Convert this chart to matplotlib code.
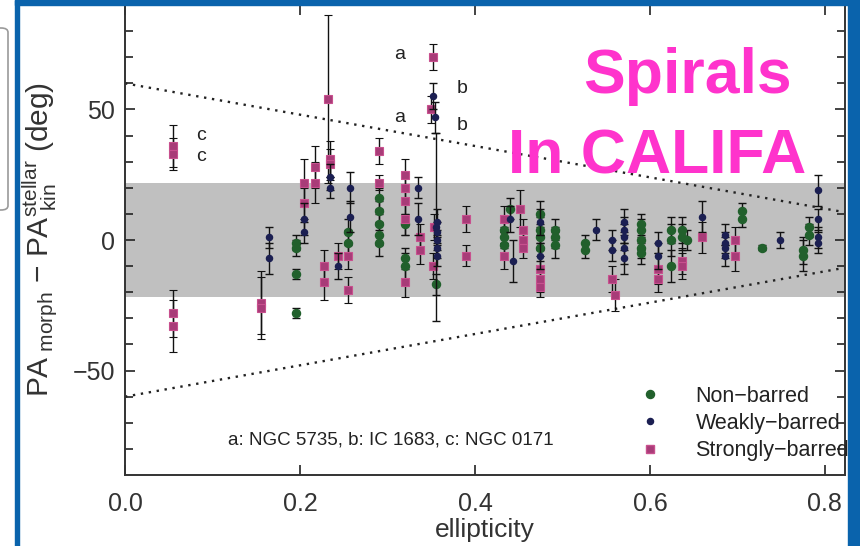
import matplotlib
matplotlib.use("Agg")
import matplotlib.pyplot as plt
from matplotlib.patches import Rectangle, FancyBboxPatch
from matplotlib.lines import Line2D
import numpy as np

plt.rcParams["font.family"] = ["Liberation Sans", "DejaVu Sans"]
plt.rcParams["mathtext.fontset"] = "custom"
plt.rcParams["mathtext.rm"] = "Liberation Sans"
plt.rcParams["mathtext.it"] = "Liberation Sans:italic"

# ---- data: ellipticity, PA difference (deg), uncertainty (deg) ----
eps_non = [0.195, 0.195, 0.195, 0.195, 0.255, 0.255,
           0.29, 0.29, 0.29, 0.29, 0.29, 0.32, 0.32, 0.32, 0.355,
           0.433, 0.433, 0.433, 0.44, 0.474, 0.474, 0.474, 0.474,
           0.491, 0.491, 0.491, 0.526, 0.526,
           0.59, 0.59, 0.59, 0.59, 0.59, 0.624, 0.624, 0.624,
           0.637, 0.637, 0.642, 0.705, 0.705, 0.728,
           0.775, 0.775, 0.782, 0.782]
dpa_non = [-1, -3, -13, -28, 3, -1,
           16, 11, 6, 2, -1, 6, -7, -10, -17,
           4, 1, -2, 12, 10, 4, 1, -3,
           4, 1, -2, -1, -4,
           6, 4, 0, -3, -5, 4, 0, -10,
           4, 1, 0, 11, 8, -3,
           -4, -6, 5, 2]
err_non = [3, 3, 2, 2, 5, 5,
           4, 4, 4, 4, 5, 4, 4, 5, 4,
           5, 4, 5, 4, 5, 5, 5, 5,
           4, 4, 5, 3, 3,
           4, 4, 4, 4, 4, 5, 6, 6,
           5, 5, 4, 3, 3, 1,
           5, 6, 4, 4]

eps_weak = [0.165, 0.165, 0.205, 0.205, 0.234, 0.234, 0.243, 0.257, 0.257,
            0.335, 0.335, 0.352, 0.354, 0.355,
            0.357, 0.357, 0.357, 0.357, 0.357, 0.44, 0.443, 0.474, 0.474,
            0.538, 0.557, 0.557, 0.57, 0.57, 0.57, 0.57, 0.57,
            0.609, 0.609, 0.659, 0.686, 0.686, 0.686, 0.686, 0.749,
            0.792, 0.792, 0.792, 0.792]
dpa_weak = [1, -7, 8, 3, 24, 20, -10, 20, 9,
            20, 8, 55, 47, 5,
            7, 3, 0, -3, -6, 8, -8, 7, -6,
            4, 0, -4, 7, 4, 1, -3, -7,
            -1, -6, 9, 2, -1, -3, -6, 0,
            19, 8, 1, -1]
err_weak = [4, 6, 6, 4, 5, 4, 5, 6, 6,
            4, 6, 5, 6, 36,
            5, 4, 4, 4, 4, 5, 8, 5, 5,
            4, 4, 4, 5, 5, 5, 6, 6,
            4, 5, 6, 4, 4, 4, 4, 3,
            6, 4, 4, 4]

eps_strong = [0.055, 0.055, 0.055, 0.055, 0.155, 0.155, 0.205, 0.205,
              0.217, 0.217, 0.228, 0.228, 0.232, 0.234, 0.234, 0.243,
              0.255, 0.255, 0.29, 0.29, 0.32, 0.32, 0.32, 0.32, 0.32,
              0.337, 0.337, 0.352, 0.350, 0.353, 0.352, 0.39, 0.39,
              0.433, 0.433, 0.451, 0.455, 0.455, 0.455,
              0.474, 0.474, 0.474, 0.557, 0.56, 0.609, 0.609,
              0.637, 0.637, 0.659, 0.697, 0.697]
dpa_strong = [36, 33, -28, -33, -24, -26, 22, 14,
              28, 22, -10, -16, 54, 31, 29, -6,
              -6, -19, 34, 22, 25, 20, 15, 8, -16,
              1, -4, 70, 50, 5, -10, 8, -6,
              8, -6, 12, 4, 0, -3,
              -11, -15, -18, -15, -21, -11, -15,
              -8, -10, 1, 0, -6]
err_strong = [8, 6, 9, 10, 12, 12, 9, 6,
              8, 8, 6, 7, 32, 7, 6, 5,
              5, 5, 5, 3, 6, 6, 5, 6, 6,
              5, 5, 5, 5, 5, 5, 5, 4,
              5, 5, 7, 4, 4, 4,
              5, 5, 4, 5, 6, 6, 5,
              5, 5, 6, 5, 6]

# galaxy tags: (label, ellipticity, PA difference)
tag_text = ["a", "a", "b", "b", "c", "c"]
tag_eps = [0.314, 0.314, 0.385, 0.385, 0.087, 0.087]
tag_dpa = [71, 47, 58, 44, 40, 32]

band_half = 22          # grey tolerance band (deg)
cone_zero = 60          # dotted envelope at zero ellipticity (deg)

C_NON = "#21602c"
C_WEAK = "#1b1f52"
C_STRONG = "#a83c78"

fig = plt.figure(figsize=(8.6, 5.46), dpi=100)
W, H = 860.0, 546.0
ax = fig.add_axes([125 / W, 1 - 475 / H, 720 / W, 470 / H])

xlim = (0.0, 0.823)
ax.set_xlim(*xlim)
ax.set_ylim(-90, 90)

ax.axhspan(-band_half, band_half, color="#c0c0c0", lw=0, zorder=0)
xx = np.array(xlim)
ax.plot(xx, cone_zero * (1 - xx), ls=(0, (1, 2.4)), color="#222222", lw=1.7, zorder=1)
ax.plot(xx, -cone_zero * (1 - xx), ls=(0, (1, 2.4)), color="#222222", lw=1.7, zorder=1)

ekw = dict(ls="none", ecolor="#111111", elinewidth=1.0, capsize=3.2, capthick=1.0)
ax.errorbar(eps_non, dpa_non, yerr=err_non, marker="o", ms=5.8, mfc=C_NON,
            mec=C_NON, zorder=3, **ekw)
ax.errorbar(eps_weak, dpa_weak, yerr=err_weak, marker="o", ms=4.4, mfc=C_WEAK,
            mec=C_WEAK, zorder=4, **ekw)
ax.errorbar(eps_strong, dpa_strong, yerr=err_strong, marker="s", ms=6.2,
            mfc=C_STRONG, mec="#c8508e", mew=0.8, zorder=3, **ekw)

for t, e, d in zip(tag_text, tag_eps, tag_dpa):
    ax.text(e, d, t, fontsize=14, color="#222222", ha="center", va="center")

ax.text(0.304, -76.5, "a: NGC 5735, b: IC 1683, c: NGC 0171", fontsize=13.5,
        color="#222222", ha="center", va="center")

handles = [
    Line2D([], [], ls="none", marker="o", ms=5.8, mfc=C_NON, mec=C_NON),
    Line2D([], [], ls="none", marker="o", ms=4.4, mfc=C_WEAK, mec=C_WEAK),
    Line2D([], [], ls="none", marker="s", ms=6.2, mfc=C_STRONG, mec="#c8508e"),
]
leg = ax.legend(handles, ["Non\u2212barred", "Weakly\u2212barred", "Strongly\u2212barred"],
                loc="upper left", bbox_to_anchor=((641.7 - 125) / 720, (475 - 386) / 470),
                frameon=False, fontsize=15.5, handlelength=0.8, handletextpad=1.7,
                labelspacing=0.28, borderpad=0, borderaxespad=0)
for txt in leg.get_texts():
    txt.set_color("#222222")

ax.set_xticks([0.0, 0.2, 0.4, 0.6, 0.8])
ax.set_xticklabels(["0.0", "0.2", "0.4", "0.6", "0.8"])
ax.set_yticks([-50, 0, 50])
ax.set_yticks(np.arange(-80, 90, 10), minor=True)
ax.tick_params(axis="both", which="both", direction="in", top=True, right=True,
               color="#222222", width=1.2)
ax.tick_params(axis="both", which="major", length=7, labelsize=18, labelcolor="#333333")
ax.tick_params(axis="y", which="minor", length=6)
ax.tick_params(axis="x", which="major", pad=12)
ax.tick_params(axis="y", which="major", pad=7)
for s in ax.spines.values():
    s.set_linewidth(1.4)
    s.set_color("#333333")

ax.set_xlabel("ellipticity", fontsize=19, color="#333333", labelpad=2)
fig.text(40 / W, 1 - 240 / H,
         r"PA$_{\rm\ morph}$ $-$ PA$_{\rm\ kin}^{\rm stellar}$ (deg)",
         rotation=90, fontsize=21.5, color="#333333", ha="center", va="center")

# overlay title
fig.text(687 / W, 1 - 93 / H, "Spirals", fontsize=45, fontweight="bold",
         color="#ff33cc", ha="center", va="baseline")
fig.text(657 / W, 1 - 173 / H, "In CALIFA", fontsize=45, fontweight="bold",
         color="#ff33cc", ha="center", va="baseline")

# slide frame
blue = "#0a63ac"
fig.add_artist(Rectangle((15 / W, 0), 3.5 / W, 1, transform=fig.transFigure,
                         color=blue, zorder=10))
fig.add_artist(Rectangle((15 / W, 1 - 5 / H), 1, 5 / H, transform=fig.transFigure,
                         color=blue, zorder=10))
fig.add_artist(Rectangle((848 / W, 0), 12 / W, 1, transform=fig.transFigure,
                         color=blue, zorder=10))
fig.add_artist(FancyBboxPatch((-20 / W, 1 - 210 / H), 28 / W, 182 / H,
                              boxstyle="round,pad=0,rounding_size=0.008",
                              transform=fig.transFigure, fc="white",
                              ec="#9a9a9a", lw=1.2, zorder=9))

fig.savefig("out.png", dpi=100)
